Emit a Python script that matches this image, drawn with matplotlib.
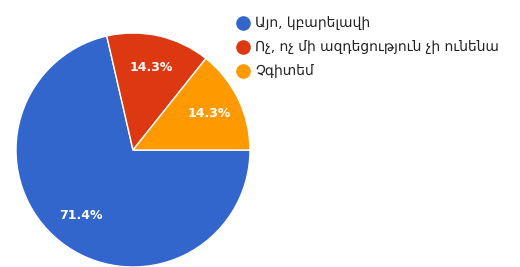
import matplotlib
matplotlib.use("Agg")
import matplotlib.pyplot as plt
from matplotlib.lines import Line2D

labels = ["Այո, կբարելավի", "Ոչ, ոչ մի ազդեցություն չի ունենա", "Չգիտեմ"]
shares = [71.4, 14.3, 14.3]
colors = ["#3366CC", "#DC3912", "#FF9900"]

plt.rcParams["font.family"] = ["DejaVu Sans"]

fig = plt.figure(figsize=(5.2, 2.67), dpi=100)
ax = fig.add_axes([16 / 520, 0, 234 / 520, 234 / 267])

wedges, texts, autotexts = ax.pie(
    shares, colors=colors, startangle=0, counterclock=False,
    autopct="%.1f%%", pctdistance=0.72,
    wedgeprops={"edgecolor": "white", "linewidth": 1.0},
    textprops={"color": "white", "fontsize": 9, "fontweight": "bold"},
)
ax.set_xlim(-1.0, 1.0)
ax.set_ylim(-1.0, 1.0)
ax.set_aspect("equal")

handles = [Line2D([], [], marker="o", linestyle="none", markersize=9.5,
                  markerfacecolor=c, markeredgecolor=c) for c in colors]
fig.legend(handles, labels, loc="upper left", bbox_to_anchor=(222 / 520, 1 - 4 / 267),
           frameon=False, fontsize=10, labelspacing=0.72, handletextpad=0.3,
           handlelength=1.2, labelcolor="#222222")

fig.savefig("out.png", dpi=100)
